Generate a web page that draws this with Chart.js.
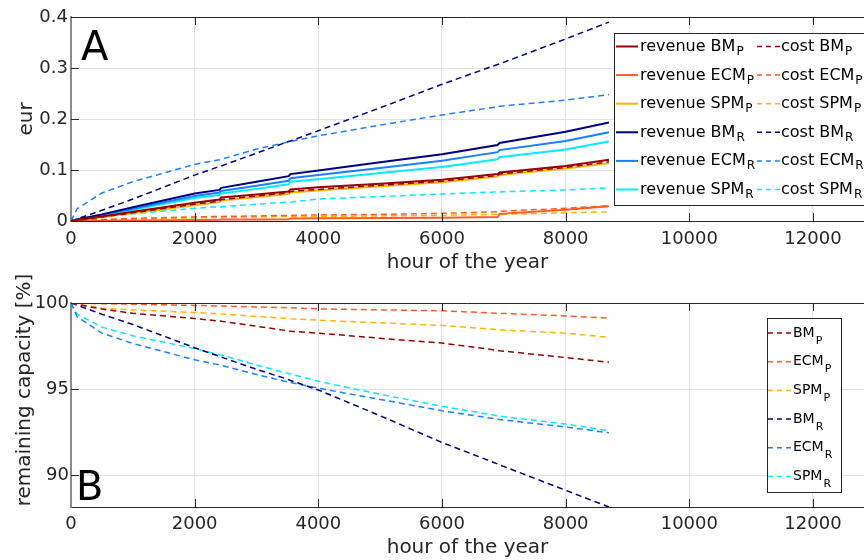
<!DOCTYPE html>
<html>
<head>
<meta charset="utf-8">
<script src="https://cdn.jsdelivr.net/npm/chart.js@4.4.1/dist/chart.umd.min.js"></script>
<style>
    html, body { margin: 0; padding: 0; background: #fff; overflow: hidden; }
    canvas { position: absolute; left: 0; }
    #chart-a { top: 0; }
    #chart-b { top: 260px; }
</style>
</head>
<body>
<canvas id="chart-a" width="864" height="280"></canvas>
<canvas id="chart-b" width="864" height="300"></canvas>
<script>
const hours = [0, 100, 500, 1000, 2000, 2400, 2430, 3000, 3520, 3550, 4000, 5000, 6000, 6900, 6930, 8000, 8700];

// panel A - cumulative revenue and cost (eur)
const revenueBMP  = [0, 0.002, 0.009, 0.018, 0.036, 0.042, 0.046, 0.052, 0.058, 0.062, 0.066, 0.073, 0.081, 0.092, 0.095, 0.108, 0.120];
const revenueECMP = [0, 0, 0.0005, 0.001, 0.002, 0.0025, 0.003, 0.003, 0.0035, 0.005, 0.0055, 0.006, 0.0065, 0.008, 0.014, 0.022, 0.029];
const revenueSPMP = [0, 0.0015, 0.008, 0.015, 0.031, 0.037, 0.040, 0.047, 0.053, 0.056, 0.060, 0.068, 0.076, 0.087, 0.090, 0.103, 0.113];
const revenueBMR  = [0, 0.003, 0.013, 0.027, 0.054, 0.061, 0.065, 0.077, 0.088, 0.092, 0.099, 0.115, 0.131, 0.149, 0.153, 0.175, 0.193];
const revenueECMR = [0, 0.0025, 0.012, 0.024, 0.049, 0.056, 0.059, 0.069, 0.079, 0.084, 0.090, 0.104, 0.118, 0.135, 0.139, 0.157, 0.174];
const revenueSPMR = [0, 0.002, 0.011, 0.022, 0.045, 0.051, 0.054, 0.063, 0.072, 0.077, 0.082, 0.094, 0.106, 0.121, 0.125, 0.140, 0.156];
const costBMP  = [0, 0.0015, 0.008, 0.016, 0.033, 0.039, 0.042, 0.049, 0.055, 0.058, 0.062, 0.070, 0.078, 0.089, 0.092, 0.105, 0.116];
const costECMP = [0, 0.001, 0.003, 0.005, 0.008, 0.009, 0.009, 0.010, 0.011, 0.011, 0.012, 0.013, 0.015, 0.018, 0.019, 0.025, 0.030];
const costSPMP = [0, 0.0008, 0.002, 0.004, 0.006, 0.007, 0.007, 0.008, 0.009, 0.009, 0.009, 0.010, 0.011, 0.013, 0.013, 0.016, 0.018];
const costBMR  = [0, 0.004, 0.021, 0.043, 0.090, 0.107, 0.108, 0.133, 0.156, 0.157, 0.177, 0.222, 0.268, 0.307, 0.308, 0.357, 0.390];
const costECMR = [0, 0.024, 0.055, 0.077, 0.111, 0.120, 0.121, 0.141, 0.155, 0.156, 0.167, 0.188, 0.208, 0.224, 0.225, 0.237, 0.248];
const costSPMR = [0, 0.004, 0.009, 0.014, 0.025, 0.028, 0.028, 0.033, 0.037, 0.037, 0.043, 0.048, 0.053, 0.057, 0.057, 0.061, 0.065];

// panel B - remaining capacity (%)
const capacityBMP  = [100, 99.92, 99.65, 99.4, 99.1, 98.95, 98.94, 98.65, 98.38, 98.36, 98.25, 97.95, 97.67, 97.25, 97.23, 96.83, 96.56];
const capacityECMP = [100, 99.99, 99.96, 99.93, 99.86, 99.83, 99.83, 99.77, 99.72, 99.72, 99.66, 99.6, 99.55, 99.4, 99.4, 99.25, 99.12];
const capacitySPMP = [100, 99.92, 99.7, 99.6, 99.45, 99.37, 99.36, 99.22, 99.1, 99.09, 99.0, 98.85, 98.7, 98.45, 98.44, 98.25, 98.0];
const capacityBMR  = [100, 99.87, 99.35, 98.75, 97.4, 96.9, 96.86, 96.15, 95.55, 95.5, 94.95, 93.45, 91.9, 90.65, 90.6, 89.12, 88.15];
const capacityECMR = [100, 99.2, 98.25, 97.65, 96.7, 96.4, 96.38, 95.85, 95.4, 95.38, 95.05, 94.4, 93.74, 93.25, 93.23, 92.8, 92.46];
const capacitySPMR = [100, 99.35, 98.6, 98.1, 97.35, 97.0, 96.98, 96.4, 95.9, 95.88, 95.45, 94.7, 94.0, 93.45, 93.43, 92.97, 92.58];

const models = ['BM', 'ECM', 'SPM', 'BM', 'ECM', 'SPM'];
const subs = ['P', 'P', 'P', 'R', 'R', 'R'];
const xTicks = [0, 2000, 4000, 6000, 8000, 10000, 12000];

const colors = ['#990000', '#ff5a28', '#ffb300', '#000080', '#1a80ff', '#00ecff'];
const axisColor = '#262626';
const gridColor = '#e2e2e2';
const font = 'DejaVu Sans';

Chart.defaults.font.family = font;
Chart.defaults.color = axisColor;

function line(values, color, dashed) {
    return {
        data: hours.map((h, i) => ({ x: h, y: values[i] })),
        borderColor: color,
        borderWidth: dashed ? 1.5 : 2,
        borderDash: dashed ? [6, 4] : [],
        pointRadius: 0,
        fill: false,
        tension: 0
    };
}

// box line, inward ticks, panel letter and a legend with subscripts
const frame = {
    id: 'frame',
    afterDraw(chart, args, opts) {
        const ctx = chart.ctx;
        const a = chart.chartArea;
        const xs = chart.scales.x, ys = chart.scales.y;
        ctx.save();
        ctx.strokeStyle = axisColor;
        ctx.lineWidth = 1;
        ctx.beginPath();
        ctx.moveTo(a.left, a.top + 0.5);
        ctx.lineTo(a.right, a.top + 0.5);
        xs.ticks.forEach(t => {
            if (t.value === 0) return;
            const px = Math.round(xs.getPixelForValue(t.value)) + 0.5;
            ctx.moveTo(px, a.bottom); ctx.lineTo(px, a.bottom - 8);
            ctx.moveTo(px, a.top); ctx.lineTo(px, a.top + 8);
        });
        ys.ticks.forEach(t => {
            const py = Math.round(ys.getPixelForValue(t.value)) + 0.5;
            ctx.moveTo(a.left, py); ctx.lineTo(a.left + 8, py);
        });
        ctx.stroke();

        // panel letter
        ctx.fillStyle = '#000';
        ctx.font = '40px "' + font + '"';
        ctx.textAlign = 'left';
        ctx.textBaseline = 'alphabetic';
        ctx.fillText(opts.letter, opts.letterX, opts.letterY);

        // y title drawn by hand when it is not centred on the axis
        if (opts.yTitle) {
            ctx.save();
            ctx.translate(opts.yTitle.x, opts.yTitle.y);
            ctx.rotate(-Math.PI / 2);
            ctx.font = '20px "' + font + '"';
            ctx.fillStyle = axisColor;
            ctx.textAlign = 'center';
            ctx.textBaseline = 'middle';
            ctx.fillText(opts.yTitle.text, 0, 0);
            ctx.restore();
        }

        // legend
        const lg = opts.legend;
        ctx.fillStyle = '#fff';
        ctx.fillRect(lg.x, lg.y, lg.w, lg.h);
        ctx.strokeStyle = axisColor;
        ctx.lineWidth = 1;
        ctx.strokeRect(lg.x + 0.5, lg.y + 0.5, lg.w, lg.h);
        lg.items.forEach(it => {
            const col = lg.columns[it.col];
            const y = lg.row0 + it.row * lg.rowStep;
            ctx.strokeStyle = it.color;
            ctx.lineWidth = it.dashed ? 1.5 : 2;
            ctx.setLineDash(it.dashed ? [5, 4] : []);
            ctx.beginPath();
            ctx.moveTo(col.lineX, y);
            ctx.lineTo(col.lineX + col.lineW, y);
            ctx.stroke();
            ctx.setLineDash([]);
            ctx.fillStyle = '#000';
            ctx.font = lg.size + 'px "' + font + '"';
            ctx.fillText(it.label, col.textX, y + lg.baseDrop);
            const w = ctx.measureText(it.label).width;
            ctx.font = lg.subSize + 'px "' + font + '"';
            ctx.fillText(it.sub, col.textX + w + 1, y + lg.baseDrop + lg.subDrop);
        });
        ctx.restore();
    }
};

function xScale(tickPadding, titlePadding, height) {
    return {
        type: 'linear',
        min: 0,
        max: 12825,
        afterFit: s => { s.height = height; },
        afterBuildTicks: s => { s.ticks = xTicks.map(v => ({ value: v })); },
        ticks: {
            padding: tickPadding,
            maxRotation: 0,
            font: { size: 18 },
            callback: v => String(v)
        },
        grid: { color: gridColor, drawTicks: false },
        border: { color: axisColor, width: 1 },
        title: {
            display: true,
            text: 'hour of the year',
            font: { size: 20 },
            padding: { top: 0, bottom: titlePadding }
        }
    };
}

// panel A
const datasetsA = [];
const revenues = [revenueBMP, revenueECMP, revenueSPMP, revenueBMR, revenueECMR, revenueSPMR];
const costs = [costBMP, costECMP, costSPMP, costBMR, costECMR, costSPMR];
for (let i = 0; i < 6; i++) {
    datasetsA.push(line(revenues[i], colors[i], false));
    datasetsA.push(line(costs[i], colors[i], true));
}

const legendA = {
    x: 614, y: 33, w: 260, h: 172,
    row0: 46.5, rowStep: 28.6, size: 16, subSize: 12, baseDrop: 4.5, subDrop: 4,
    columns: [{ lineX: 616, lineW: 22, textX: 640 }, { lineX: 757, lineW: 23, textX: 781 }],
    items: []
};
for (let i = 0; i < 6; i++) {
    legendA.items.push({ col: 0, row: i, color: colors[i], dashed: false, label: 'revenue ' + models[i], sub: subs[i] });
    legendA.items.push({ col: 1, row: i, color: colors[i], dashed: true, label: 'cost ' + models[i], sub: subs[i] });
}

new Chart(document.getElementById('chart-a').getContext('2d'), {
    type: 'line',
    data: { datasets: datasetsA },
    options: {
        responsive: false,
        animation: false,
        devicePixelRatio: 1,
        layout: { padding: { top: 17, left: 0, right: 0, bottom: 0 } },
        plugins: {
            legend: { display: false },
            tooltip: { enabled: false },
            frame: { letter: 'A', letterX: 81, letterY: 60, legend: legendA }
        },
        scales: {
            x: xScale(8, 5, 59),
            y: {
                min: 0,
                max: 0.4,
                afterFit: s => { s.width = 71; },
                ticks: { stepSize: 0.1, padding: 3, font: { size: 18 } },
                grid: { color: gridColor, drawTicks: false },
                border: { color: '#8a8a8a', width: 2 },
                title: { display: true, text: 'eur', font: { size: 20 }, padding: { top: 15, bottom: 0 } }
            }
        }
    },
    plugins: [frame]
});

// panel B (canvas starts at y = 260)
const capacities = [capacityBMP, capacityECMP, capacitySPMP, capacityBMR, capacityECMR, capacitySPMR];
const datasetsB = capacities.map((c, i) => line(c, colors[i], true));

const legendB = {
    x: 767, y: 58, w: 74, h: 174,
    row0: 73, rowStep: 28.7, size: 14, subSize: 11, baseDrop: 3.5, subDrop: 7,
    columns: [{ lineX: 768, lineW: 24, textX: 793 }],
    items: models.map((m, i) => ({ col: 0, row: i, color: colors[i], dashed: true, label: m, sub: subs[i] }))
};

new Chart(document.getElementById('chart-b').getContext('2d'), {
    type: 'line',
    data: { datasets: datasetsB },
    options: {
        responsive: false,
        animation: false,
        devicePixelRatio: 1,
        layout: { padding: { top: 43, left: 0, right: 0, bottom: 0 } },
        plugins: {
            legend: { display: false },
            tooltip: { enabled: false },
            frame: {
                letter: 'B', letterX: 76, letterY: 240, legend: legendB,
                yTitle: { text: 'remaining capacity [%]', x: 25, y: 130 }
            }
        },
        scales: {
            x: xScale(7, 0, 53),
            y: {
                min: 88.15,
                max: 100,
                afterFit: s => { s.width = 71; },
                ticks: { stepSize: 5, padding: 2, includeBounds: false, font: { size: 18 } },
                grid: { color: gridColor, drawTicks: false },
                border: { color: '#8a8a8a', width: 2 },
                title: { display: false }
            }
        }
    },
    plugins: [frame]
});
</script>
</body>
</html>
